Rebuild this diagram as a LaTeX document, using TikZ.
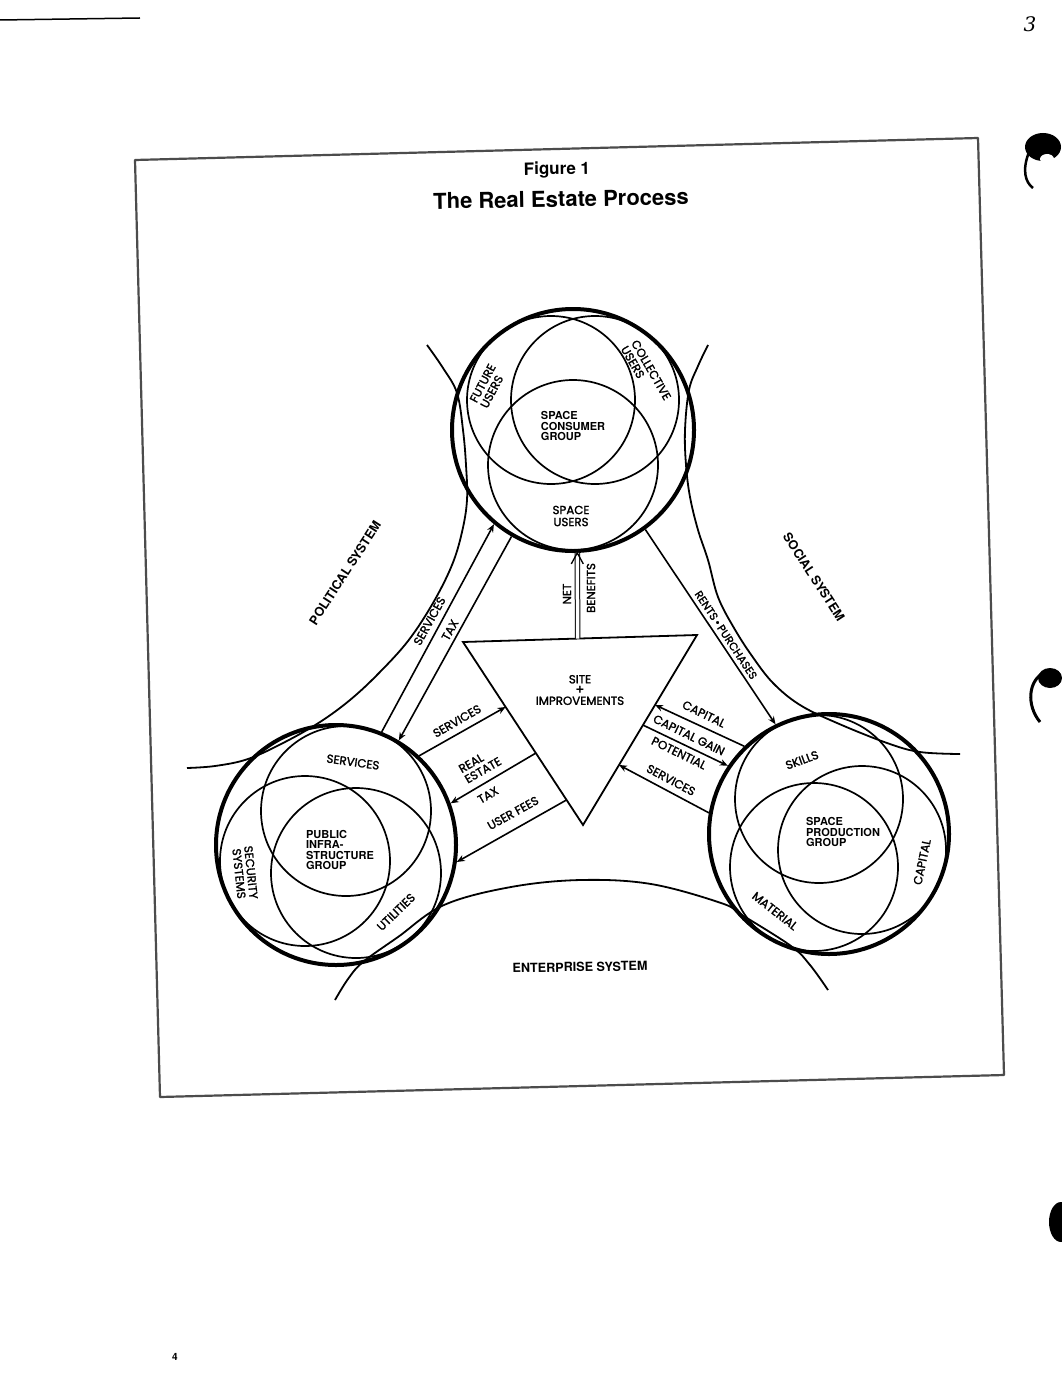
\documentclass[tikz,border=0pt]{standalone}
\usepackage{fontspec}
\setmainfont{TeX Gyre Heros}
\newfontfamily\popf{Poppins}[FakeBold=1.6]
\newfontfamily\handf{DejaVu Serif}
\usetikzlibrary{arrows.meta,calc}
\begin{document}
\begin{tikzpicture}[x=1pt,y=-1pt,
  outer/.style={circle,draw,line width=4pt,minimum size=#1,inner sep=0pt},
  innerc/.style={line width=1.7pt},
  curve/.style={line width=1.8pt},
  link/.style={line width=1.6pt},
  arr/.style={link,-{Stealth[length=8pt,width=6.5pt]}},
  med/.style={font=\popf\fontsize{11.8}{12}\selectfont,inner sep=0pt},
  hvy/.style={font=\bfseries\fontsize{11}{10.5}\selectfont,inner sep=0pt,align=left},
  sys/.style={font=\bfseries\fontsize{12.6}{12}\selectfont,inner sep=0pt},
]
\useasboundingbox[fill=white] (0,0) rectangle (1061,1380);

% frame
\draw[line width=2.2pt, black!70, line join=round] (135,160) -- (978,138) -- (1004,1075) -- (160,1097) -- cycle;

% title
\node[font=\bfseries\fontsize{17}{17}\selectfont, rotate=1] (fig) at (557,170) {Figure 1};
\node[font=\bfseries\fontsize{22}{22}\selectfont, rotate=1] (ttl) at (561,199) {The Real Estate Process};

% outer circles
\node[outer=242pt] (T) at (573,430) {};
\node[outer=240pt] (L) at (336,845) {};
\node[outer=240pt] (R) at (829,834) {};

% inner circles
\draw[innerc] (551,400) circle[radius=84];
\draw[innerc] (595,400) circle[radius=84];
\draw[innerc] (573,465) circle[radius=85];
\draw[innerc] (346,811) circle[radius=85];
\draw[innerc] (305,861) circle[radius=85];
\draw[innerc] (356,873) circle[radius=85];
\draw[innerc] (819,799) circle[radius=84];
\draw[innerc] (814,867) circle[radius=84];
\draw[innerc] (862,850) circle[radius=84];

% system boundary curves
\draw[curve] plot[smooth,tension=0.6] coordinates {(427,345) (443,368) (457,393) (463,430) (466,465) (467,500) (462,532) (452,565) (433,603) (408,641) (378,674) (350,700) (320,722) (285,742) (248,759) (215,766) (187,768)};
\draw[curve] plot[smooth,tension=0.6] coordinates {(708,345) (698,366) (689,390) (685,430) (686,465) (690,497) (698,530) (708,560) (718,597) (734,628) (752,656) (773,683) (800,705) (837,723) (887,743) (920,752) (960,754)};
\draw[curve] plot[smooth,tension=0.6] coordinates {(335,1000) (348,979) (363,962) (398,937) (444,905) (511,887) (581,880) (651,884) (721,903) (742,915) (791,946) (810,965) (828,990)};

% triangle
\coordinate (TL) at (463,642);
\coordinate (TR) at (697,635);
\coordinate (BV) at (583,825);
\draw[link, line width=1.8pt, line join=miter] (TL) -- (TR) -- (BV) -- cycle;
\node[med, align=center] (site) at (580,690) {SITE\\[-1.5pt]{\normalfont\bfseries\fontsize{15}{10}\selectfont +}\\[-1pt]IMPROVEMENTS};

% connector end points on the triangle
\coordinate (NB) at ($(TL)!0.49!(TR)$);
\coordinate (tSv) at ($(TL)!0.355!(BV)$);
\coordinate (tRe) at ($(TL)!0.607!(BV)$);
\coordinate (tUf) at ($(TL)!0.863!(BV)$);
\coordinate (tCa) at ($(TR)!0.368!(BV)$);
\coordinate (tCg) at ($(TR)!0.474!(BV)$);
\coordinate (tSr) at ($(TR)!0.684!(BV)$);

% connectors
\draw[arr] (L.68.7) -- (T.-130);
\draw[arr] (T.-120) -- (L.59);
\draw[line width=1pt, double distance=3.5pt] (NB) -- (T.-88);
\draw[line width=1.3pt] ($(T.-88)+(-6,11)$) -- (T.-88) -- ($(T.-88)+(6,11)$);
\draw[arr] (T.-54.2) -- (R.116.8);
\draw[arr] (L.47) -- (tSv);
\draw[arr] (tRe) -- (L.20.2);
\draw[arr] (tUf) -- (L.-8);
\draw[arr] (R.134.7) -- (tCa);
\draw[arr] (tCg) -- (R.146.4);
\draw[arr] (R.170) -- (tSr);

% connector labels
\node[med, rotate=61] (lsv1) at (429.5,621) {SERVICES};
\node[med, rotate=61] (ltax1) at (450,630) {TAX};
\node[med, rotate=90] (lnet) at (567,594) {NET};
\node[med, rotate=90] (lben) at (591,588) {BENEFITS};
\node[med, rotate=-56.5, font=\popf\fontsize{11}{12}\selectfont] (lrent) at (726,635) {RENTS\,\textbullet\,PURCHASES};
\node[med, rotate=30] (lsv2) at (457,721) {SERVICES};
\node[med, rotate=30, align=left] (lre) at (480,765) {REAL\\ESTATE};
\node[med, rotate=30] (ltax2) at (488,795) {TAX};
\node[med, rotate=29] (luf) at (513,813) {USER FEES};
\node[med, rotate=-26] (lcap) at (704,714) {CAPITAL};
\node[med, rotate=-26] (lcg) at (689,735) {CAPITAL GAIN};
\node[med, rotate=-26] (lpot) at (679,753) {POTENTIAL};
\node[med, rotate=-28] (lsv3) at (671,780) {SERVICES};

% circle labels
\node[med, rotate=62, align=left] (lfu) at (488,386) {FUTURE\\USERS};
\node[med, rotate=-60, align=left] (lcu) at (646,373) {COLLECTIVE\\USERS};
\node[hvy] (lscg) at (573,426) {SPACE\\CONSUMER\\GROUP};
\node[med, align=center] (lsu) at (571,516) {SPACE\\USERS};
\node[med, rotate=-8] (lsvc) at (353,762) {SERVICES};
\node[hvy] (lpig) at (340,850) {PUBLIC\\INFRA-\\STRUCTURE\\GROUP};
\node[med, rotate=-84, align=center] (lsec) at (245,873) {SECURITY\\SYSTEMS};
\node[med, rotate=44] (lut) at (396,912) {UTILITIES};
\node[med, rotate=20] (lsk) at (802,760) {SKILLS};
\node[hvy] (lspg) at (843,832) {SPACE\\PRODUCTION\\GROUP};
\node[med, rotate=78] (lcapr) at (922,862) {CAPITAL};
\node[med, rotate=-38] (lmat) at (775,911) {MATERIAL};

% system labels
\node[sys, rotate=57] (pol) at (345,573) {POLITICAL SYSTEM};
\node[sys, rotate=-57] (soc) at (814,577) {SOCIAL SYSTEM};
\node[sys, rotate=1] (ent) at (580,967) {ENTERPRISE SYSTEM};

% page marks
\draw[line width=1.5pt] (0,20) -- (140,18);
\node[font=\handf\itshape\fontsize{20}{20}\selectfont] (pg3) at (1030,24) {3};
\node[font=\bfseries\fontsize{10}{10}\selectfont] (pg4) at (175,1357) {4};
\fill (1043,147) ellipse [x radius=18, y radius=14];
\fill[white] (1047,159) ellipse [x radius=7, y radius=5];
\draw[line width=2.5pt] (1029,152) .. controls (1022,170) and (1025,182) .. (1033,188);
\fill (1050,678) ellipse [x radius=12, y radius=10];
\draw[line width=3pt] (1045,672) .. controls (1028,680) and (1026,705) .. (1040,722);
\fill (1061,1222) ellipse [x radius=12, y radius=20];
\end{tikzpicture}
\end{document}
